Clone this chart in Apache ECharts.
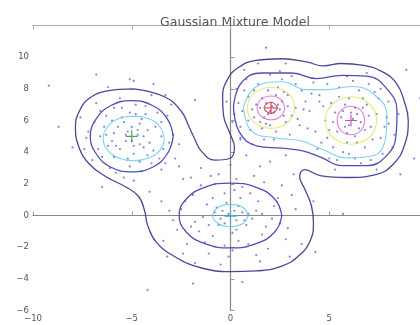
<!DOCTYPE html>
<html><head><meta charset="utf-8">
<script src="https://cdn.jsdelivr.net/npm/echarts@6/dist/echarts.min.js"></script>
<style>html,body{margin:0;padding:0;background:#fff}#c{width:420px;height:325px}</style>
</head><body><div id="c"></div>
<script>
const titleText = "Gaussian Mixture Model";
const xTicks = [-10, -5, 0, 5, 10];
const yTicks = [-6, -4, -2, 0, 2, 4, 6, 8, 10, 12];

// contour level 1 (outermost, encloses all clusters)
const contourL1 = [[-4.9,8.0],[-3.35,7.5],[-2.5,6.6],[-2.1,5.6],[-1.8,4.8],[-1.5,4.1],[-0.8,3.5],[-0.05,3.6],[0.2,4.3],[0,5.1],[-0.35,6.3],[-0.4,7.5],[-0.15,8.6],[0.4,9.35],[1.3,9.8],[2.6,9.9],[3.85,9.7],[4.7,9.45],[5.6,9.6],[6.65,9.5],[7.65,9.1],[8.4,8.35],[8.8,7.2],[9.0,6.0],[8.8,4.4],[8.25,3.25],[7.4,2.6],[5.9,2.4],[4.6,2.5],[3.75,2.9],[3.5,2.45],[3.75,1.7],[4.1,0.6],[4.2,-0.45],[4.05,-1.55],[3.5,-2.5],[2.6,-3.2],[1.3,-3.5],[0,-3.55],[-1.5,-3.3],[-2.75,-2.65],[-3.75,-1.7],[-4.2,-0.6],[-4.35,0.3],[-4.65,1.2],[-5.3,1.8],[-6.3,2.45],[-7.15,3.25],[-7.7,4.4],[-7.85,5.65],[-7.65,6.6],[-7.15,7.4],[-6.3,7.85]];
// contour level 2
const contourL2A = [[-2.9,5.0],[-3.2,6.1],[-3.95,6.95],[-5.0,7.25],[-6.05,6.95],[-6.8,6.1],[-7.1,5.0],[-6.8,3.9],[-6.05,3.05],[-5.0,2.75],[-3.95,3.05],[-3.2,3.9]];
const contourL2B = [[2.6,0],[2.25,1.03],[1.3,1.78],[0,2.05],[-1.3,1.78],[-2.25,1.03],[-2.6,0],[-2.25,-1.03],[-1.3,-1.78],[0,-2.05],[1.3,-1.78],[2.25,-1.03]];
const contourL2CD = [[0.15,6.9],[0.56,8.4],[1.57,9.0],[3.1,9.0],[4.37,8.65],[5.63,8.85],[6.9,8.8],[7.92,8.0],[8.43,6.6],[8.38,5.05],[7.92,3.8],[6.9,3.15],[5.63,3.15],[4.62,3.65],[3.6,4.1],[2.59,4.25],[1.32,4.4],[0.46,5.25]];
// contour level 3
const contourL3A = [[-3.35,4.86],[-3.55,5.56],[-4.1,6.1],[-4.9,6.26],[-5.7,6.1],[-6.25,5.56],[-6.45,4.86],[-6.25,4.16],[-5.7,3.65],[-4.9,3.46],[-4.1,3.65],[-3.55,4.16]];
const contourL3B = [[0.9,0],[0.63,0.5],[0,0.7],[-0.63,0.5],[-0.9,0],[-0.63,-0.5],[0,-0.7],[0.63,-0.5]];
const contourL3CD = [[0.66,6.9],[1.32,8.15],[2.59,8.45],[3.86,7.95],[4.87,7.95],[6.14,8.15],[7.41,7.5],[7.92,6.27],[7.82,4.7],[7.16,3.76],[5.89,3.64],[4.62,4.2],[3.6,4.7],[2.33,4.9],[1.07,5.33]];
// contour level 4
const contourL4C = [[3.25,6.8],[3.1,7.45],[2.65,7.93],[2.05,8.1],[1.45,7.93],[1.0,7.45],[0.85,6.8],[1.0,6.15],[1.45,5.67],[2.05,5.5],[2.65,5.67],[3.1,6.15]];
const contourL4D = [[7.4,6],[7.23,6.75],[6.75,7.3],[6.1,7.5],[5.45,7.3],[4.97,6.75],[4.8,6],[4.97,5.25],[5.45,4.7],[6.1,4.5],[6.75,4.7],[7.23,5.25]];
// contour level 5
const contourL5C = [[2.75,6.8],[2.55,7.33],[2.05,7.55],[1.55,7.33],[1.35,6.8],[1.55,6.27],[2.05,6.05],[2.55,6.27]];
const contourL5D = [[6.8,6],[6.6,6.64],[6.1,6.9],[5.6,6.64],[5.4,6],[5.6,5.36],[6.1,5.1],[6.6,5.36]];
// contour level 6
const contourL6C = [[2.4,6.8],[2.05,7.15],[1.7,6.8],[2.05,6.45]];

// sample points
const pointsA = [[-5.2,5.3],[-4.6,5.8],[-5.8,4.4],[-4.1,4.6],[-5.5,6.2],[-6.3,5.1],[-3.8,5.6],[-4.9,3.9],[-5.9,6.8],[-4.3,6.9],[-6.7,4.2],[-3.4,4.2],[-5.1,3.1],[-6.9,5.9],[-3.2,6.3],[-4.5,2.8],[-5.6,7.4],[-7.3,4.9],[-2.9,5.1],[-6.1,3.0],[-4.0,7.6],[-5.3,4.7],[-4.7,5.1],[-5.0,5.6],[-4.4,4.3],[-5.7,5.6],[-6.0,4.7],[-3.6,3.6],[-6.6,6.6],[-4.8,6.4],[-5.4,2.4],[-7.0,3.5],[-2.6,4.5],[-3.9,8.3],[-6.2,8.1],[-4.2,5.4],[-5.9,3.7],[-4.0,3.3],[-3.0,7.0],[-7.6,6.2],[-8.0,4.3],[-5.1,8.6],
  [-4.4,5.0],[-5.4,5.9],[-5.6,4.2],[-4.6,4.5],[-6.4,5.6],[-3.5,5.0],[-4.5,6.1],[-6.0,6.0],[-5.2,3.6],[-3.7,6.5],[-6.5,3.7],[-4.8,7.0],[-7.2,5.3],[-3.1,4.6],[-5.5,6.8],[-4.2,3.8],[-6.8,7.1],[-3.3,7.6],[-5.8,2.7],[-4.9,4.4],
  [-5.0,4.7],[-5.3,5.1],[-4.7,5.4],[-3.9,4.1],[-6.2,4.4],[-5.9,5.2],[-4.3,6.4],[-3.5,5.9],[-6.6,5.0],[-5.1,6.5],[-4.6,3.4],[-6.3,6.3],[-3.3,3.3],[-7.4,4.2],[-4.9,2.2]];
const pointsB = [[0.2,0.3],[-0.5,-0.2],[0.8,-0.6],[-1.2,0.7],[1.4,0.9],[-0.3,1.4],[0.6,1.8],[-1.8,-0.4],[2.1,-0.2],[-0.9,-1.3],[0.4,-1.6],[1.6,-1.2],[-2.3,0.9],[-1.5,1.9],[2.4,1.1],[0.1,-2.2],[-2.7,-0.9],[2.9,-0.8],[-0.6,2.6],[1.2,2.5],[-3.1,0.3],[3.3,0.4],[-1.1,-2.4],[1.9,-2.1],[-2.2,-1.8],[0.9,0.1],[-0.2,0.8],[0.3,-0.9],[-0.8,0.2],[1.1,-0.2],[-1.6,-1.0],[2.6,1.9],[-2.0,2.4],[0.0,3.2],[-3.4,-1.6],[3.6,-1.8],[1.5,-2.9],[-0.5,-3.1],[-2.6,3.1],[2.0,3.4],[4.2,0.9],[-4.1,1.5],[0.6,-4.2],[-1.8,-3.0],[3.0,-2.6],[-3.2,-2.6],
  [0.4,0.6],[-0.3,-0.5],[0.7,-0.3],[-0.7,0.5],[0.1,-1.1],[1.3,0.3],[-1.4,-0.1],[0.5,1.1],[-0.9,1.1],[1.8,-0.7],[-2.0,-0.7],[0.9,-1.8],[-1.3,-1.7],[2.2,0.6],[-1.9,1.3],[1.0,1.4],[-0.1,-2.6],[2.8,-1.5],[-2.9,-0.3],[1.7,2.1],[-0.8,2.0],[3.1,1.3],[-3.5,0.9],[0.3,2.3],[-2.4,-2.4],
  [-0.1,0.1],[0.3,-0.3],[-0.4,0.3],[0.6,0.2],[-0.6,-0.6],[1.6,0.1],[-1.1,-0.6],[2.5,-0.5],[-2.5,0.4],[0.2,1.6],[-0.3,-1.9],[1.3,-2.5]];
const pointsC = [[2.1,6.9],[1.6,7.4],[2.7,6.3],[1.2,6.2],[2.9,7.6],[1.8,5.8],[0.9,7.5],[3.3,6.8],[2.4,8.1],[1.4,8.3],[0.6,6.6],[3.6,7.9],[2.3,5.3],[1.0,5.4],[3.5,5.7],[0.3,8.0],[2.0,8.9],[3.1,8.8],[0.7,9.2],[4.0,6.6],[1.7,4.8],[0.1,5.9],[2.6,7.2],[1.9,6.4],[2.3,7.6],[1.5,6.8],[3.0,5.1],[-0.2,7.2],[4.2,8.4],[1.1,4.5],[2.8,9.6],[0.5,4.9],
  [2.2,6.5],[1.8,7.1],[2.5,6.7],[1.9,7.9],[2.8,5.9],[1.3,7.0],[3.1,6.3],[0.9,6.0],[2.6,8.6],[1.2,7.9],[3.8,7.2],[0.4,7.1],[1.6,5.5],[3.3,8.3],[2.2,4.8],[0.8,8.6],[3.9,5.5],[1.4,9.6],[4.5,7.2],[0.2,6.4],
  [2.0,6.6],[2.4,7.0],[1.7,6.2],[2.9,6.9],[1.1,6.7],[2.7,7.8],[3.4,6.1],[1.5,5.9],[0.7,7.9],[3.7,6.7],[2.0,5.7],[2.5,9.1],[4.1,7.7],[0.5,5.6]];
const pointsD = [[6.2,6.1],[5.7,6.6],[6.8,5.4],[5.4,5.3],[6.9,7.0],[5.9,4.6],[7.4,6.4],[5.1,7.1],[6.5,7.9],[7.2,4.8],[4.8,6.0],[6.0,3.9],[7.8,5.6],[5.5,8.1],[7.0,8.3],[4.6,4.6],[8.0,7.2],[6.6,3.3],[5.0,3.6],[7.7,3.9],[4.5,7.6],[6.3,6.8],[5.8,5.6],[6.6,5.9],[6.0,7.4],[8.3,5.1],[7.4,2.9],[5.3,2.9],[4.3,5.3],[6.9,9.0],[8.5,6.4],[5.9,8.8],
  [6.0,5.7],[6.4,6.4],[5.6,6.2],[6.7,6.8],[5.2,5.9],[7.1,5.6],[6.3,5.0],[5.5,7.5],[7.5,7.4],[6.8,4.3],[4.9,4.9],[7.9,6.2],[5.7,4.0],[6.2,8.5],[4.7,6.9],[8.2,4.3],[7.1,3.5],[5.4,3.5],[7.6,8.0],[4.4,4.2],
  [6.1,6.5],[5.9,5.2],[6.5,5.5],[5.3,6.5],[7.0,6.3],[6.4,4.6],[5.0,5.4],[7.3,7.8],[5.8,7.0],[7.6,4.9],[6.7,7.4],[5.2,4.3],[8.0,5.8],[4.9,8.3],[6.3,3.6]];
const pointsOther = [[-4.9,8.5],[-9.2,8.2],[1.8,10.6],[-4.2,-4.7],[-1.9,-4.3],[5.7,0.1],[4.3,-2.3],[-1.5,3.0],[-2.4,2.3],[1.5,3.1],[-8.7,5.6],[-6.8,8.9],[9.3,3.6],[8.9,9.2],
  [-1.0,2.5],[0.8,3.8],[-2.8,3.6],[2.8,3.8],[3.2,2.6],[-3.5,2.9],[-6.5,1.8],[8.6,2.6],[0.5,4.8],[-1.8,7.3],[9.6,7.4]];

// component centres
const centers = [[-5.0,5.0],[0.0,-0.05],[2.05,6.8],[6.1,6.0]];
const centerColors = ['#2a8a3a','#2fb8d8','#d0203a','#c020b0'];

const levelColors = ['#3e3e8e','#4646b4','#5cc8ea','#e6e45a','#e060c8','#d02040'];

const contourGroups = [
  [0, [contourL1]],
  [1, [contourL2A, contourL2B, contourL2CD]],
  [2, [contourL3A, contourL3B, contourL3CD]],
  [3, [contourL4C, contourL4D]],
  [4, [contourL5C, contourL5D]],
  [5, [contourL6C]]
];

const series = [];
contourGroups.forEach(([lvl, rings]) => {
  rings.forEach(r => {
    series.push({
      type: 'line', data: r.concat([r[0]]), smooth: 0.45, symbol: 'none',
      lineStyle: {color: levelColors[lvl], width: lvl < 2 ? 1.3 : 1.1, opacity: lvl < 2 ? 0.95 : 0.8},
      silent: true, z: 3
    });
  });
});
[pointsA, pointsB, pointsC, pointsD, pointsOther].forEach(p => {
  series.push({type: 'scatter', data: p, symbolSize: 2.2, itemStyle: {color: '#5a5ad2', opacity: 0.75}, z: 2, silent: true});
});
centers.forEach((c, i) => {
  series.push({type: 'scatter', data: [c], symbol: 'path://M-1,-10H1V-1H10V1H1V10H-1V1H-10V-1H-1Z', symbolSize: 12,
    itemStyle: {color: centerColors[i]}, z: 5, silent: true});
});

const fmtX = v => String(v).replace('-', '\u2212');
const fmtY = v => v === 12 ? '' : String(v).replace('-', '\u2212');
const chart = echarts.init(document.getElementById('c'), null, {renderer: 'canvas'});
chart.setOption({
  animation: false,
  title: {text: titleText, left: 230, top: 11, textAlign: 'center',
    textStyle: {fontFamily: 'DejaVu Sans', fontSize: 12.5, fontWeight: 'normal', color: '#555'}},
  grid: {left: 33, top: 25.5, width: 395, height: 285, containLabel: false, outerBoundsMode: 'none'},
  xAxis: [{
    type: 'value', min: xTicks[0], max: xTicks[xTicks.length-1], interval: 5,
    axisLine: {lineStyle: {color: '#888', width: 1.2}},
    axisTick: {inside: true, length: 4, lineStyle: {color: '#999'}},
    axisLabel: {fontFamily: 'DejaVu Sans', fontSize: 8.5, color: '#555', margin: 4, formatter: fmtX},
    splitLine: {show: false}
  }, {
    type: 'value', position: 'top', min: xTicks[0], max: xTicks[xTicks.length-1], interval: 5,
    axisLine: {lineStyle: {color: '#aaa', width: 1.2}},
    axisTick: {inside: true, length: 4, lineStyle: {color: '#aaa'}},
    axisLabel: {show: false}, splitLine: {show: false}
  }],
  yAxis: {
    type: 'value', min: yTicks[0], max: yTicks[yTicks.length-1], interval: 2,
    axisLine: {lineStyle: {color: '#888', width: 1.2}},
    axisTick: {inside: true, length: 4, lineStyle: {color: '#999'}},
    axisLabel: {fontFamily: 'DejaVu Sans', fontSize: 8.5, color: '#555', margin: 4, formatter: fmtY},
    splitLine: {show: false}
  },
  series: series
});
</script></body></html>
